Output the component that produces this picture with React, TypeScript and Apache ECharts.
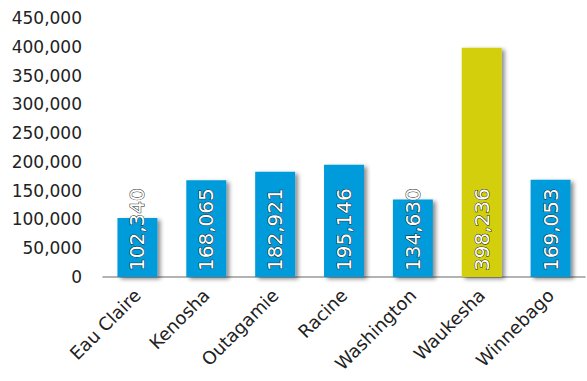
import React, { useEffect, useRef } from "react";
import * as echarts from "echarts";

const categories = ["Eau Claire", "Kenosha", "Outagamie", "Racine", "Washington", "Waukesha", "Winnebago"];
const values = [102340, 168065, 182921, 195146, 134630, 398236, 169053];
const highlight = ["Waukesha"];

const BLUE = "#009BDB";
const YELLOW = "#D3CF10";

export default function App() {
  const ref = useRef<HTMLDivElement>(null);
  useEffect(() => {
    if (!ref.current) return;
    const chart = echarts.init(ref.current, null, { renderer: "svg" });
    const fmt = (v: number) => v.toLocaleString("en-US");
    chart.setOption({
      animation: false,
      grid: { left: 103, right: 2, top: 18, bottom: 104 },
      xAxis: {
        type: "category",
        data: categories,
        axisLine: { lineStyle: { color: "#9a9a9a", width: 1.5 } },
        axisTick: { show: false },
        axisLabel: {
          rotate: 45,
          interval: 0,
          fontFamily: "DejaVu Sans",
          fontSize: 18,
          color: "#222",
          margin: 15,
        },
      },
      yAxis: {
        type: "value",
        min: 0,
        max: 450000,
        interval: 50000,
        axisLine: { show: false },
        axisTick: { show: false },
        splitLine: { show: false },
        axisLabel: {
          formatter: (v: number) => fmt(v),
          fontFamily: "DejaVu Sans",
          fontSize: 17,
          color: "#222",
          margin: 21,
        },
      },
      series: [
        {
          type: "bar",
          barWidth: "58%",
          data: categories.map((c, i) => ({
            value: values[i],
            itemStyle: {
              color: highlight.includes(c) ? YELLOW : BLUE,
              shadowColor: "rgba(0,0,0,0.45)",
              shadowBlur: 4,
              shadowOffsetX: 3,
              shadowOffsetY: 2,
            },
          })),
          label: {
            show: true,
            position: "insideBottom",
            rotate: 90,
            align: "left",
            verticalAlign: "middle",
            distance: 6,
            formatter: (p: any) => fmt(p.value),
            fontFamily: "DejaVu Sans",
            fontSize: 20,
            color: "#ffffff",
            textBorderColor: "#222",
            textBorderWidth: 1,
          },
        },
      ],
    });
    return () => chart.dispose();
  }, []);
  return <div ref={ref} style={{ width: 587, height: 381, position: "absolute", left: 0, top: 0 }} />;
}
